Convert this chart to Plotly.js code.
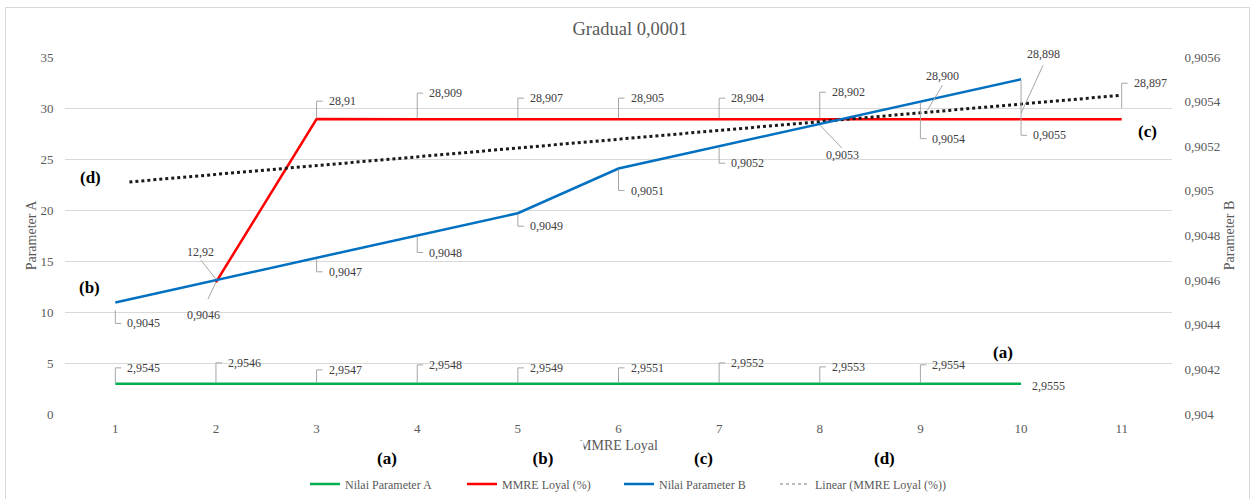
<!DOCTYPE html>
<html>
<head>
<meta charset="utf-8">
<script src="https://cdn.plot.ly/plotly-3.0.1.min.js"></script>
<style>
  html, body { margin: 0; padding: 0; background: #ffffff; }
  #wrap { position: relative; width: 1253px; height: 499px; overflow: hidden; }
  #chart { width: 1253px; height: 499px; }
  #frame { position: absolute; left: 5px; top: 7px; width: 1245px; height: 500px;
           border: 1px solid #d9d9d9; pointer-events: none; box-sizing: border-box; }
</style>
</head>
<body>
<div id="wrap"><div id="chart"></div><div id="frame"></div></div>
<script>
// ---------------- data ----------------
const categories = [1, 2, 3, 4, 5, 6, 7, 8, 9, 10, 11];

const xParamA = [1, 2, 3, 4, 5, 6, 7, 8, 9, 10];
const nilaiParameterA = [2.9545, 2.9546, 2.9547, 2.9548, 2.9549, 2.9551, 2.9552, 2.9553, 2.9554, 2.9555];
const labelsParameterA = ['2,9545', '2,9546', '2,9547', '2,9548', '2,9549', '2,9551', '2,9552', '2,9553', '2,9554', '2,9555'];

const xMMRE = [2, 3, 4, 5, 6, 7, 8, 9, 10, 11];
const mmreLoyal = [12.92, 28.91, 28.909, 28.907, 28.905, 28.904, 28.902, 28.900, 28.898, 28.897];
const labelsMMRE = ['12,92', '28,91', '28,909', '28,907', '28,905', '28,904', '28,902', '28,900', '28,898', '28,897'];

const xParamB = [1, 2, 3, 4, 5, 6, 7, 8, 9, 10];
const nilaiParameterB = [0.9045, 0.9046, 0.9047, 0.9048, 0.9049, 0.9051, 0.9052, 0.9053, 0.9054, 0.9055];
const labelsParameterB = ['0,9045', '0,9046', '0,9047', '0,9048', '0,9049', '0,9051', '0,9052', '0,9053', '0,9054', '0,9055'];

// linear trendline of MMRE Loyal (%), end points
const trendX = [1.14, 11];
const trendY = [22.75, 31.25];

const y2TickVals = [0.904, 0.9042, 0.9044, 0.9046, 0.9048, 0.905, 0.9052, 0.9054, 0.9056];
const y2TickText = ['0,904', '0,9042', '0,9044', '0,9046', '0,9048', '0,905', '0,9052', '0,9054', '0,9056'];

// ---------------- styles / label placement (pixel offsets, screen y down) ----------------
const SERIF = 'Liberation Serif, Times New Roman, serif';
const GRAY = '#595959';
const LABEL_COLOR = '#404040';
const LEADER = '#a6a6a6';

const e = (dy, y0) => ({k: 'e', y0: y0, dy: dy});
const specsMMRE = [
  {k: 'd', x0: 0, y0: -3, x1: -15, y1: -22, tx: -15, ty: -30},
  e(-18, -1), e(-26, -1), e(-21, -1), e(-21, -1), e(-21, -1), e(-27, -1),
  {k: 'd', x0: 7, y0: -9, x1: 22, y1: -34, tx: 22, ty: -43},
  {k: 'd', x0: 0, y0: -6, x1: 22, y1: -54, tx: 22, ty: -65},
  e(-36, -11)
];
const specsB = [
  e(21, 8),
  {k: 'd', x0: 0, y0: 2, x1: -8, y1: 19, tx: -12, ty: 35},
  e(14, 1), e(17, 1), e(13, 1), e(22, 1), e(17, 1),
  {k: 'd', x0: 0, y0: 1, x1: 22, y1: 24, tx: 23, ty: 31},
  e(37, 1), e(56, 1)
];
const specsA = [
  e(-16, -1), e(-21, -1), e(-14, -1), e(-19, -1), e(-16, -1), e(-16, -1), e(-21, -1), e(-17, -1), e(-19, -1),
  {k: 'n', tx: 10, ty: 2}
];

const shapes = [];
const annotations = [];

function addLabels(xs, ys, texts, specs, yref) {
  xs.forEach((x, i) => {
    const s = specs[i];
    const y = ys[i];
    const font = {family: SERIF, size: 12, color: LABEL_COLOR};
    if (s.k === 'e') {
      shapes.push({
        type: 'path', xref: 'x', yref: yref, xsizemode: 'pixel', ysizemode: 'pixel',
        xanchor: x, yanchor: y, layer: 'above',
        path: 'M0,' + (-s.y0) + ' L0,' + (-s.dy) + ' L6,' + (-s.dy),
        line: {color: LEADER, width: 1}
      });
      annotations.push({x: x, y: y, xref: 'x', yref: yref, text: texts[i], showarrow: false,
        xanchor: 'left', yanchor: 'middle', xshift: 11, yshift: -s.dy, borderpad: 0, font: font});
    } else if (s.k === 'd') {
      shapes.push({
        type: 'path', xref: 'x', yref: yref, xsizemode: 'pixel', ysizemode: 'pixel',
        xanchor: x, yanchor: y, layer: 'above',
        path: 'M' + s.x0 + ',' + (-s.y0) + ' L' + s.x1 + ',' + (-s.y1),
        line: {color: LEADER, width: 1}
      });
      annotations.push({x: x, y: y, xref: 'x', yref: yref, text: texts[i], showarrow: false,
        xanchor: 'center', yanchor: 'middle', xshift: s.tx, yshift: -s.ty, borderpad: 0, font: font});
    } else {
      annotations.push({x: x, y: y, xref: 'x', yref: yref, text: texts[i], showarrow: false,
        xanchor: 'left', yanchor: 'middle', xshift: s.tx, yshift: -s.ty, borderpad: 0, font: font});
    }
  });
}

addLabels(xParamA, nilaiParameterA, labelsParameterA, specsA, 'y');
addLabels(xMMRE, mmreLoyal, labelsMMRE, specsMMRE, 'y');
addLabels(xParamB, nilaiParameterB, labelsParameterB, specsB, 'y2');

// plot area geometry (margins) used to place the panel tags
const M = {l: 65, r: 81, t: 57, b: 85};
const PW = 1253 - M.l - M.r, PH = 499 - M.t - M.b;
const px = v => (v - M.l) / PW;
const py = v => (499 - M.b - v) / PH;

// white boxes behind the in-plot tags (they hide pieces of the gridlines)
[[65, 128, 152, 200], [1117, 1178, 105, 158], [973, 1035, 336, 368]].forEach(b => {
  shapes.push({type: 'rect', xref: 'paper', yref: 'paper', layer: 'between',
    x0: px(b[0]), x1: px(b[1]), y0: py(b[3]), y1: py(b[2]),
    fillcolor: '#ffffff', line: {width: 0}});
});

const tagFont = {family: SERIF, size: 17, color: '#000000', weight: 700};
[['(d)', 90, 177], ['(b)', 89, 287], ['(c)', 1147, 131], ['(a)', 1003, 352],
 ['(a)', 387, 458], ['(c)', 703, 458], ['(d)', 884, 458]].forEach(t => {
  annotations.push({xref: 'paper', yref: 'paper', x: px(t[1]), y: py(t[2]), text: t[0],
    showarrow: false, xanchor: 'center', yanchor: 'middle', font: tagFont});
});
annotations.push({xref: 'paper', yref: 'paper', x: px(543), y: py(458), text: '(b)',
  showarrow: false, xanchor: 'center', yanchor: 'middle', font: tagFont,
  bgcolor: '#ffffff', width: 80, height: 34, borderpad: 0});

// ---------------- traces ----------------
const traces = [
  {x: xParamA, y: nilaiParameterA, name: 'Nilai Parameter A', type: 'scatter', mode: 'lines',
   line: {color: '#00b050', width: 2.5}, yaxis: 'y'},
  {x: xMMRE, y: mmreLoyal, name: 'MMRE Loyal (%)', type: 'scatter', mode: 'lines',
   line: {color: '#ff0000', width: 2.5}, yaxis: 'y'},
  {x: xParamB, y: nilaiParameterB, name: 'Nilai Parameter B', type: 'scatter', mode: 'lines',
   line: {color: '#0070c0', width: 2.5}, yaxis: 'y2'},
  {x: trendX, y: trendY, name: 'Linear (MMRE Loyal (%))', type: 'scatter', mode: 'lines',
   line: {color: '#1a1a1a', width: 3, dash: 'dot'}, yaxis: 'y', showlegend: false},
  {x: [null], y: [null], name: 'Linear (MMRE Loyal (%))', type: 'scatter', mode: 'lines',
   line: {color: '#a6a6a6', width: 1.5, dash: 'dot'}, yaxis: 'y', showlegend: true, legend: 'legend2'}
];

const legendFont = {family: SERIF, size: 12, color: GRAY};
const layout = {
  width: 1253, height: 499,
  margin: M,
  paper_bgcolor: '#ffffff', plot_bgcolor: '#ffffff',
  separators: ',.',
  font: {family: SERIF, size: 13, color: GRAY},
  title: {text: 'Gradual 0,0001', font: {family: SERIF, size: 18.5, color: GRAY},
          xref: 'container', yref: 'container', x: 630 / 1253, xanchor: 'center',
          y: 1 - 29 / 499, yanchor: 'middle'},
  showlegend: true,
  legend: {orientation: 'h', xref: 'container', yref: 'container',
           x: 305 / 1253, xanchor: 'left', y: 1 - 484 / 499, yanchor: 'middle',
           font: legendFont, entrywidth: 112, entrywidthmode: 'pixels',
           bgcolor: 'rgba(0,0,0,0)', traceorder: 'normal'},
  legend2: {orientation: 'h', xref: 'container', yref: 'container',
           x: 775 / 1253, xanchor: 'left', y: 1 - 484 / 499, yanchor: 'middle',
           font: legendFont, bgcolor: 'rgba(0,0,0,0)'},
  xaxis: {range: [0.5, 11.5], tickmode: 'array', tickvals: categories, ticktext: categories.map(String),
          showgrid: false, zeroline: false, showline: false,
          ticks: 'outside', ticklen: 2, tickcolor: 'rgba(0,0,0,0)',
          tickfont: {family: SERIF, size: 13, color: GRAY},
          title: {text: 'MMRE Loyal', font: {family: SERIF, size: 14, color: GRAY}, standoff: 5}},
  yaxis: {range: [0, 35], tickmode: 'linear', tick0: 0, dtick: 5,
          showgrid: true, gridcolor: '#d9d9d9', gridwidth: 1, zeroline: false, showline: false,
          ticks: 'outside', ticklen: 8, tickcolor: 'rgba(0,0,0,0)',
          tickfont: {family: SERIF, size: 13, color: GRAY},
          title: {text: 'Parameter A', font: {family: SERIF, size: 14, color: GRAY}, standoff: 0}},
  yaxis2: {range: [0.904, 0.9056], overlaying: 'y', side: 'right', tickmode: 'array',
           tickvals: y2TickVals, ticktext: y2TickText,
           showgrid: false, zeroline: false, showline: false,
           ticks: 'outside', ticklen: 9, tickcolor: 'rgba(0,0,0,0)',
           tickfont: {family: SERIF, size: 13, color: GRAY},
           title: {text: 'Parameter B', font: {family: SERIF, size: 14, color: GRAY}, standoff: 4}},
  shapes: shapes,
  annotations: annotations
};

Plotly.newPlot('chart', traces, layout, {displayModeBar: false, staticPlot: true});
</script>
</body>
</html>
